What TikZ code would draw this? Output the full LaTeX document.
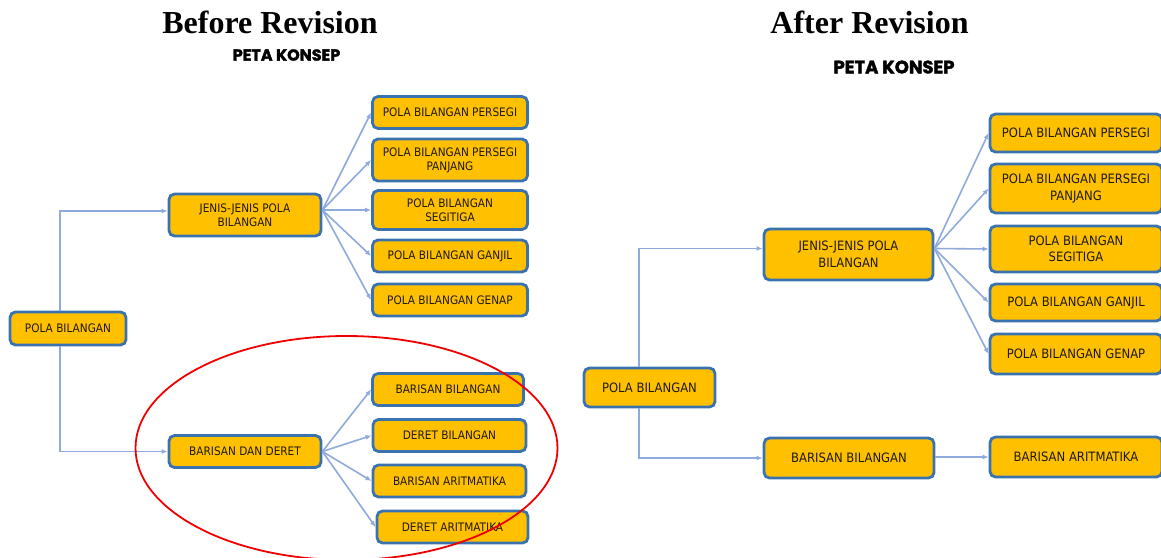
\documentclass[tikz,border=0pt]{standalone}
\usepackage{fontspec}
\setmainfont{DejaVu Sans Condensed}
\newfontfamily\titlefont{Liberation Serif}
\newfontfamily\petafont{Poppins}[BoldFeatures={FakeBold=2}]
\usetikzlibrary{arrows.meta}
\definecolor{gold}{HTML}{FFC000}
\definecolor{bordblue}{HTML}{3A72B0}
\definecolor{connblue}{HTML}{8FAADC}
\definecolor{txt}{HTML}{1F1A10}
\definecolor{circred}{HTML}{F00000}
\begin{document}
\begin{tikzpicture}[x=1pt,y=-1pt,
  box/.style={draw=bordblue, fill=gold, line width=2.8pt, rounded corners=5.5pt, align=center, inner sep=0pt, text=txt},
  lbox/.style={box, font=\fontsize{11.7}{14}\selectfont},
  rbox/.style={box, font=\fontsize{12.9}{16.5}\selectfont},
  conn/.style={draw=connblue, line width=1.6pt, -{Latex[length=6pt,width=5pt]}},
  titletext/.style={font=\titlefont\bfseries\fontsize{32}{36}\selectfont},
  petatext/.style={font=\petafont\bfseries\fontsize{#1}{#1}\selectfont}]
\useasboundingbox[fill=white] (0,0) rectangle (1161,557);

% titles
\node[titletext] (t1) at (270,22) {Before Revision};
\node[titletext] (t2) at (869.5,22) {After Revision};
\node[petatext=16] (pk1) at (286.5,55) {PETA KONSEP};
\node[petatext=18] (pk2) at (894,67) {PETA KONSEP};

% ---------- Before ----------
\node[lbox, minimum width=116pt, minimum height=33pt] (LPB) at (68,328.5) {POLA BILANGAN};
\node[lbox, minimum width=152pt, minimum height=42pt] (LJ) at (245,215) {JENIS-JENIS POLA\\BILANGAN};
\node[lbox, minimum width=155pt, minimum height=32pt] (LP1) at (450,112.5) {POLA BILANGAN PERSEGI};
\node[lbox, minimum width=155pt, minimum height=42pt] (LP2) at (450,160) {POLA BILANGAN PERSEGI\\PANJANG};
\node[lbox, minimum width=155pt, minimum height=39pt] (LP3) at (450,210) {POLA BILANGAN\\SEGITIGA};
\node[lbox, minimum width=155pt, minimum height=32pt] (LP4) at (450,256) {POLA BILANGAN GANJIL};
\node[lbox, minimum width=155pt, minimum height=32pt] (LP5) at (450,300) {POLA BILANGAN GENAP};
\node[lbox, minimum width=152pt, minimum height=32pt] (LBD) at (245,451.5) {BARISAN DAN DERET};
\node[lbox, minimum width=151pt, minimum height=32pt] (LB1) at (448,389.5) {BARISAN BILANGAN};
\node[lbox, minimum width=153pt, minimum height=32pt] (LB2) at (449.5,435.5) {DERET BILANGAN};
\node[lbox, minimum width=153pt, minimum height=32pt] (LB3) at (449.5,481) {BARISAN ARITMATIKA};
\node[lbox, minimum width=151pt, minimum height=32pt] (LB4) at (452.5,527) {DERET ARITMATIKA};

\coordinate (LJo) at ([yshift=5pt]LJ.east);
\draw[conn] ([xshift=-8pt]LPB.north) |- ([yshift=4pt]LJ.west);
\draw[conn] ([xshift=-8pt]LPB.south) |- (LBD.west);
\foreach \t in {LP1,LP2,LP3,LP4,LP5} \draw[conn] (LJo) -- (\t.west);
\foreach \t in {LB1,LB2,LB3,LB4} \draw[conn] (LBD.east) -- (\t.west);

\draw[circred, line width=1.8pt] (346.5,448) ellipse [x radius=211, y radius=112];

% ---------- After ----------
\node[rbox, minimum width=131pt, minimum height=39pt] (RPB) at (649.5,387.5) {POLA BILANGAN};
\node[rbox, minimum width=169pt, minimum height=51pt] (RJ) at (848.5,254.5) {JENIS-JENIS POLA\\BILANGAN};
\node[rbox, minimum width=170pt, minimum height=40pt] (RB) at (849,458) {BARISAN BILANGAN};
\node[rbox, minimum width=172pt, minimum height=38pt] (RP1) at (1076,133) {POLA BILANGAN PERSEGI};
\node[rbox, minimum width=172pt, minimum height=49pt] (RP2) at (1076,188.5) {POLA BILANGAN PERSEGI\\PANJANG};
\node[rbox, minimum width=172pt, minimum height=46pt] (RP3) at (1076,249) {POLA BILANGAN\\SEGITIGA};
\node[rbox, minimum width=172pt, minimum height=37pt] (RP4) at (1076,302.5) {POLA BILANGAN GANJIL};
\node[rbox, minimum width=172pt, minimum height=40pt] (RP5) at (1076,354) {POLA BILANGAN GENAP};
\node[rbox, minimum width=172pt, minimum height=40pt] (RA) at (1076,457) {BARISAN ARITMATIKA};

\coordinate (RJo) at ([yshift=6pt]RJ.east);
\draw[conn] ([xshift=-10.5pt]RPB.north) |- ([yshift=6pt]RJ.west);
\draw[conn] ([xshift=-10.5pt]RPB.south) |- (RB.west);
\foreach \t in {RP1,RP2,RP3,RP4,RP5} \draw[conn] (RJo) -- (\t.west);
\draw[conn] ([yshift=1pt]RB.east) -- ([yshift=1pt]RB.east -| RA.west);
\end{tikzpicture}
\end{document}
